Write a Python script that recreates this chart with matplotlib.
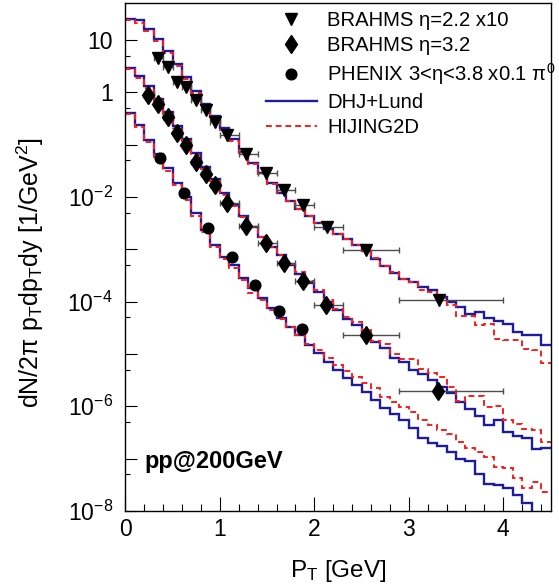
import numpy as np
import matplotlib
matplotlib.use("Agg")
import matplotlib.pyplot as plt
from matplotlib.lines import Line2D
from matplotlib.ticker import FixedLocator, MultipleLocator

# ---------- Data ----------
# histogram bins: 0.1 GeV wide, 0 -> 4.5 GeV
pt_edges = np.linspace(0.0, 4.5, 46)

# BRAHMS eta=2.2 (x10) curves
dhj_a = [25.1, 24.0, 15.8, 10.2, 6.03, 3.47, 1.95, 1.07, 0.603, 0.347,
         0.204, 0.126, 0.0724, 0.0437, 0.0282, 0.0182, 0.0120, 8.5e-3, 6.0e-3, 4.3e-3,
         3.16e-3, 2.4e-3, 1.95e-3, 1.55e-3, 1.23e-3, 9.3e-4, 6.6e-4, 4.7e-4, 3.55e-4, 2.7e-4,
         2.4e-4, 1.9e-4, 1.66e-4, 1.23e-4, 1.0e-4, 7.9e-5, 5.9e-5, 6.2e-5, 4.8e-5, 4.2e-5,
         3.8e-5, 2.6e-5, 2.3e-5, 2.3e-5, 1.5e-5]
hij_a = [24.0, 21.4, 14.5, 9.33, 5.50, 3.16, 1.78, 0.977, 0.550, 0.316,
         0.191, 0.117, 0.0692, 0.0417, 0.0269, 0.0178, 0.0117, 8.3e-3, 5.9e-3, 4.3e-3,
         3.16e-3, 2.45e-3, 1.95e-3, 1.58e-3, 1.23e-3, 9.3e-4, 6.8e-4, 4.8e-4, 3.6e-4, 2.75e-4,
         2.34e-4, 1.66e-4, 1.51e-4, 1.17e-4, 8.5e-5, 5.4e-5, 5.4e-5, 3.55e-5, 3.8e-5, 1.9e-5,
         1.82e-5, 1.82e-5, 1.26e-5, 1.17e-5, 6.6e-6]

# BRAHMS eta=3.2 curves
dhj_b = [2.88, 2.0, 1.32, 0.741, 0.417, 0.229, 0.126, 0.0692, 0.0380, 0.0219,
         0.0117, 7.1e-3, 4.3e-3, 2.7e-3, 1.74e-3, 1.12e-3, 7.6e-4, 5.0e-4, 3.4e-4, 2.3e-4,
         1.51e-4, 1.0e-4, 6.9e-5, 4.6e-5, 3.55e-5, 2.24e-5, 1.66e-5, 1.32e-5, 8.5e-6, 7.1e-6,
         5.0e-6, 4.1e-6, 3.16e-6, 2.34e-6, 1.82e-6, 1.2e-6, 8.7e-7, 6.6e-7, 4.4e-7, 5.4e-7,
         3.2e-7, 2.7e-7, 2.5e-7, 1.55e-7, 1.58e-7]
hij_b = [2.75, 1.86, 1.20, 0.676, 0.380, 0.209, 0.115, 0.0631, 0.0347, 0.0200,
         0.0110, 6.6e-3, 4.2e-3, 2.63e-3, 1.70e-3, 1.12e-3, 7.6e-4, 5.2e-4, 3.6e-4, 2.5e-4,
         1.66e-4, 1.05e-4, 7.1e-5, 5.1e-5, 4.1e-5, 2.9e-5, 1.74e-5, 1.58e-5, 9.8e-6, 8.1e-6,
         7.9e-6, 5.2e-6, 4.3e-6, 3.6e-6, 2.34e-6, 1.26e-6, 1.58e-6, 1.58e-6, 9.8e-7, 1.02e-6,
         5.4e-7, 4.6e-7, 3.7e-7, 3.6e-7, 2.1e-7]

# PHENIX (x0.1) curves
dhj_c = [0.398, 0.237, 0.123, 0.0646, 0.0355, 0.0186, 0.0100, 4.9e-3, 2.34e-3, 1.20e-3,
         7.2e-4, 5.0e-4, 2.8e-4, 1.78e-4, 1.15e-4, 7.4e-5, 4.8e-5, 3.3e-5, 2.3e-5, 1.48e-5,
         1.02e-5, 7.1e-6, 4.9e-6, 3.5e-6, 2.5e-6, 1.9e-6, 1.32e-6, 9.3e-7, 7.2e-7, 5.4e-7,
         3.8e-7, 2.5e-7, 2.0e-7, 1.74e-7, 1.35e-7, 1.0e-7, 8.9e-8, 5.1e-8, 3.3e-8, 3.1e-8,
         2.7e-8, 2.0e-8, 1.4e-8, 5e-9, 5e-9]
hij_c = [0.380, 0.219, 0.112, 0.0575, 0.0316, 0.0166, 8.7e-3, 4.4e-3, 2.14e-3, 1.10e-3,
         6.6e-4, 4.4e-4, 2.6e-4, 1.48e-4, 1.07e-4, 6.9e-5, 4.6e-5, 3.2e-5, 2.3e-5, 1.58e-5,
         1.17e-5, 8.5e-6, 6.2e-6, 4.7e-6, 3.6e-6, 2.8e-6, 2.2e-6, 1.51e-6, 1.20e-6, 9.5e-7,
         7.8e-7, 5.4e-7, 4.3e-7, 3.5e-7, 3.0e-7, 2.1e-7, 1.58e-7, 1.35e-7, 1.07e-7, 6.9e-8,
         6.5e-8, 4.3e-8, 2.7e-8, 3.5e-8, 2.3e-8]

# data points
tri_pt = [0.343, 0.449, 0.544, 0.646, 0.748, 0.85, 0.95, 1.08, 1.28, 1.486, 1.68, 1.88, 2.13, 2.544, 3.32]
tri_lo = [0.3, 0.4, 0.5, 0.6, 0.7, 0.8, 0.9, 1.0, 1.2, 1.4, 1.6, 1.8, 2.0, 2.3, 2.9]
tri_hi = [0.4, 0.5, 0.6, 0.7, 0.8, 0.9, 1.0, 1.2, 1.4, 1.6, 1.8, 2.0, 2.3, 2.9, 4.0]
tri_y = [4.47, 3.09, 1.58, 1.28, 0.713, 0.457, 0.275, 0.151, 0.066, 0.0282, 0.0135, 7.0e-3, 2.7e-3, 9.5e-4, 1.07e-4]

dia_pt = [0.243, 0.343, 0.449, 0.544, 0.646, 0.748, 0.85, 0.95, 1.08, 1.28, 1.486, 1.68, 1.884, 2.124, 2.544, 3.31]
dia_lo = [0.2, 0.3, 0.4, 0.5, 0.6, 0.7, 0.8, 0.9, 1.0, 1.2, 1.4, 1.6, 1.8, 2.0, 2.3, 2.9]
dia_hi = [0.3, 0.4, 0.5, 0.6, 0.7, 0.8, 0.9, 1.0, 1.2, 1.4, 1.6, 1.8, 2.0, 2.3, 2.9, 4.0]
dia_y = [0.89, 0.60, 0.342, 0.17, 0.098, 0.047, 0.028, 0.017, 7.6e-3, 2.75e-3, 1.29e-3, 5.4e-4, 2.5e-4, 8.5e-5, 2.3e-5, 2.0e-6]

phx_pt = [0.367, 0.621, 0.872, 1.126, 1.369, 1.623, 1.867]
phx_y = [0.055, 0.012, 2.5e-3, 7.0e-4, 2.1e-4, 6.6e-5, 3.0e-5]

labels = ["BRAHMS \u03b7=2.2 x10", "BRAHMS \u03b7=3.2",
          "PHENIX 3<\u03b7<3.8 x0.1 $\\pi^0$", "DHJ+Lund", "HIJING2D"]

# ---------- Style ----------
plt.rcParams["font.family"] = ["Liberation Sans", "DejaVu Sans"]
plt.rcParams["mathtext.default"] = "regular"

BLUE = "#1c1c9c"
RED = "#ff1a1a"
DASH = (0, (3, 2))

fig = plt.figure(figsize=(5.59, 5.88), dpi=100)
ax = fig.add_axes([0.2242, 0.131, 0.7606, 0.8634])

# ---------- Histograms ----------
for vals in (dhj_a, dhj_b, dhj_c):
    ax.stairs(vals, pt_edges, baseline=None, color=BLUE, lw=1.7)
for vals in (hij_a, hij_b, hij_c):
    ax.stairs(vals, pt_edges, baseline=None, color=RED, lw=1.4, linestyle=DASH)

# ---------- Data points ----------
def xerrs(pt, lo, hi):
    pt = np.asarray(pt)
    return [pt - np.asarray(lo), np.asarray(hi) - pt]

ax.errorbar(tri_pt, tri_y, xerr=xerrs(tri_pt, tri_lo, tri_hi), fmt="v", color="k",
            ms=8, ecolor="#4d4d4d", elinewidth=1.0, capsize=2.5, zorder=5)
ax.errorbar(dia_pt, dia_y, xerr=xerrs(dia_pt, dia_lo, dia_hi), fmt="d", color="k",
            ms=9.6, ecolor="#4d4d4d", elinewidth=1.0, capsize=2.5, zorder=5)
ax.plot(phx_pt, phx_y, "o", color="k", ms=7.7, zorder=5)

# ---------- Axes ----------
ax.set_yscale("log")
ax.set_xlim(0, 4.5)
ax.set_ylim(1e-8, 50)

ax.yaxis.set_major_locator(FixedLocator([1e-8, 1e-7, 1e-6, 1e-5, 1e-4, 1e-3, 1e-2, 1e-1, 1, 10]))
ax.set_yticklabels(["$10^{-8}$", "", "$10^{-6}$", "", "$10^{-4}$", "", "$10^{-2}$", "", "1", "10"])
ax.yaxis.set_minor_locator(FixedLocator([5e-8, 5e-7, 5e-6, 5e-5, 5e-4, 5e-3, 5e-2, 5e-1, 5]))
ax.xaxis.set_major_locator(MultipleLocator(1))
ax.xaxis.set_minor_locator(MultipleLocator(0.2))

ax.tick_params(axis="x", which="major", direction="in", length=10, width=0.8, labelsize=16.5, pad=5)
ax.tick_params(axis="x", which="minor", direction="in", length=5, width=0.8)
ax.tick_params(axis="y", which="major", direction="in", length=8.5, width=0.8, labelsize=16.5, pad=9)
ax.tick_params(axis="y", which="minor", direction="in", length=3.6, width=0.8)
ax.yaxis.set_minor_formatter(plt.NullFormatter())
for sp in ax.spines.values():
    sp.set_linewidth(1.0)

ax.set_xlabel("P$_T$ [GeV]", fontsize=17.5)
ax.xaxis.set_label_coords(0.5, -0.093)
ax.set_ylabel("dN/2\u03c0 p$_T$dp$_T$dy [1/GeV$^2$]", fontsize=18)
ax.yaxis.set_label_coords(-0.187, 0.47)

ax.text(0.046, 0.084, "pp@200GeV", transform=ax.transAxes, fontsize=17,
        fontweight="bold", va="baseline")

# ---------- Legend ----------
handles = [
    Line2D([], [], ls="none", marker="v", color="k", ms=8),
    Line2D([], [], ls="none", marker="d", color="k", ms=9.6),
    Line2D([], [], ls="none", marker="o", color="k", ms=7.7),
    Line2D([], [], color=BLUE, lw=1.7),
    Line2D([], [], color=RED, lw=1.4, linestyle=DASH),
]
ax.legend(handles, labels, loc="upper left", bbox_to_anchor=(0.331, 0.985),
          frameon=False, fontsize=14.6, handlelength=2.5, handletextpad=0.5,
          labelspacing=0.3, borderpad=0, borderaxespad=0)

plt.savefig("out.png", dpi=100)
plt.close()
